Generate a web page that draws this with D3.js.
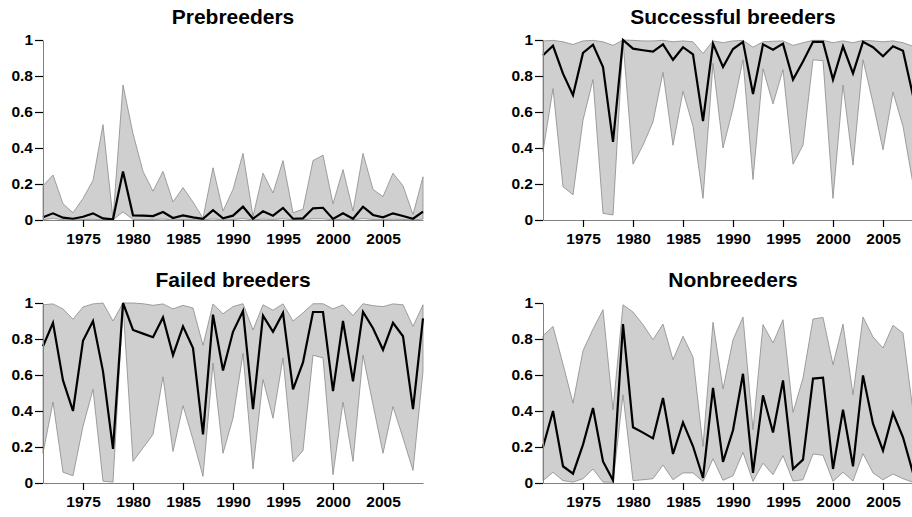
<!DOCTYPE html>
<html>
<head>
<meta charset="utf-8">
<script src="https://cdn.jsdelivr.net/npm/d3@7"></script>
<style>
  html, body { margin: 0; padding: 0; background: #fff; }
  svg { display: block; }
  text { font-family: "Liberation Sans", Arial, Helvetica, sans-serif; font-weight: bold; }
</style>
</head>
<body>
<svg id="chart" width="912" height="517"></svg>
<script>
const years = d3.range(1971, 2010);
const titles = ["Prebreeders", "Successful breeders", "Failed breeders", "Nonbreeders"];
const yTicks = [0, 0.2, 0.4, 0.6, 0.8, 1];
const yTickLabels = ["0", "0.2", "0.4", "0.6", "0.8", "1"];
const xTicks = [1975, 1980, 1985, 1990, 1995, 2000, 2005];

const preMean = [0.015,0.037,0.013,0.007,0.018,0.037,0.009,0.004,0.27,0.026,0.024,0.022,0.044,0.011,0.026,0.015,0.007,0.055,0.009,0.024,0.074,0.007,0.048,0.024,0.067,0.007,0.009,0.065,0.068,0.006,0.037,0.007,0.074,0.028,0.015,0.037,0.022,0.007,0.046];
const preLower = [0.002,0.008,0.002,0.001,0.002,0.004,0.001,0.001,0.045,0.003,0.003,0.003,0.005,0.001,0.003,0.002,0.001,0.006,0.001,0.003,0.008,0.001,0.005,0.003,0.007,0.001,0.001,0.007,0.007,0.001,0.004,0.001,0.008,0.003,0.002,0.004,0.003,0.001,0.005];
const preUpper = [0.19,0.25,0.09,0.04,0.12,0.22,0.53,0.005,0.75,0.48,0.27,0.16,0.27,0.10,0.18,0.10,0.01,0.29,0.05,0.17,0.37,0.02,0.26,0.15,0.33,0.04,0.06,0.33,0.36,0.09,0.28,0.05,0.37,0.17,0.13,0.26,0.19,0.03,0.24];

const sucMean = [0.915,0.968,0.813,0.693,0.928,0.974,0.85,0.434,1.0,0.952,0.943,0.935,0.976,0.89,0.96,0.92,0.55,0.98,0.85,0.95,0.99,0.70,0.976,0.946,0.98,0.78,0.88,0.99,0.99,0.78,0.965,0.815,0.99,0.96,0.91,0.965,0.94,0.69,0.85];
const sucLower = [0.38,0.73,0.185,0.14,0.555,0.78,0.037,0.028,0.99,0.31,0.415,0.545,0.82,0.415,0.715,0.52,0.12,0.87,0.40,0.62,0.89,0.225,0.84,0.645,0.835,0.31,0.415,0.89,0.885,0.12,0.75,0.305,0.89,0.65,0.39,0.71,0.52,0.20,0.5];
const sucUpper = [0.995,0.998,0.99,0.975,0.995,0.998,0.99,0.97,1.0,0.998,0.995,0.995,0.998,0.99,0.995,0.99,0.925,0.995,0.985,0.995,0.998,0.96,0.99,0.993,0.995,0.97,0.985,0.998,0.998,0.985,0.995,0.985,0.998,0.995,0.99,0.995,0.985,0.965,0.99];

const faiMean = [0.76,0.89,0.57,0.40,0.79,0.90,0.62,0.19,1.0,0.85,0.83,0.81,0.92,0.71,0.87,0.75,0.27,0.935,0.625,0.84,0.955,0.41,0.93,0.84,0.945,0.52,0.67,0.95,0.95,0.51,0.90,0.565,0.95,0.86,0.74,0.89,0.815,0.41,0.915];
const faiLower = [0.165,0.45,0.06,0.04,0.315,0.52,0.01,0.005,0.99,0.12,0.195,0.27,0.59,0.175,0.43,0.24,0.037,0.665,0.165,0.36,0.72,0.078,0.575,0.36,0.695,0.117,0.18,0.71,0.695,0.046,0.45,0.12,0.71,0.435,0.165,0.425,0.25,0.07,0.62];
const faiUpper = [0.99,0.995,0.967,0.91,0.978,0.995,1.0,0.90,1.0,1.0,0.996,0.987,0.995,0.967,0.987,0.972,0.765,0.995,0.94,0.98,0.996,0.85,0.99,0.96,0.995,0.90,0.945,0.996,0.996,0.967,0.99,0.93,0.996,0.985,0.98,0.995,0.99,0.87,0.99];

const nonMean = [0.20,0.40,0.093,0.052,0.213,0.417,0.12,0.015,0.883,0.31,0.28,0.248,0.472,0.161,0.337,0.204,0.028,0.528,0.117,0.293,0.607,0.056,0.487,0.281,0.570,0.078,0.13,0.58,0.585,0.078,0.407,0.093,0.598,0.33,0.18,0.389,0.254,0.056,0.2];
const nonLower = [0.013,0.06,0.013,0.005,0.024,0.078,0.005,0.004,0.49,0.013,0.018,0.024,0.10,0.018,0.056,0.056,0.009,0.135,0.015,0.04,0.17,0.009,0.11,0.046,0.152,0.011,0.018,0.161,0.154,0.009,0.06,0.011,0.163,0.056,0.018,0.05,0.024,0.004,0.02];
const nonUpper = [0.818,0.87,0.66,0.444,0.735,0.855,0.963,0.407,0.99,0.95,0.88,0.796,0.883,0.685,0.815,0.70,0.204,0.893,0.522,0.796,0.922,0.296,0.88,0.778,0.907,0.393,0.583,0.911,0.92,0.657,0.883,0.49,0.922,0.811,0.75,0.876,0.833,0.40,0.6];

const panels = [
  { title: titles[0], mean: preMean, lower: preLower, upper: preUpper, col: 0, row: 0 },
  { title: titles[1], mean: sucMean, lower: sucLower, upper: sucUpper, col: 1, row: 0 },
  { title: titles[2], mean: faiMean, lower: faiLower, upper: faiUpper, col: 0, row: 1 },
  { title: titles[3], mean: nonMean, lower: nonLower, upper: nonUpper, col: 1, row: 1 }
];

const svg = d3.select("#chart");
const colX = [43, 543];
const rowY = [40, 303];
const pw = 380, ph = 180;

panels.forEach(p => {
  const x0 = colX[p.col], y0 = rowY[p.row];
  const x = d3.scaleLinear().domain([1971, 2009]).range([x0, x0 + pw]);
  const y = d3.scaleLinear().domain([0, 1]).range([y0 + ph, y0]);
  const g = svg.append("g");
  const rows = years.map((yr, i) => ({ yr, m: p.mean[i], lo: p.lower[i], hi: p.upper[i] }));

  g.append("path")
    .datum(rows)
    .attr("d", d3.area().x(d => x(d.yr)).y0(d => y(d.lo)).y1(d => y(d.hi)))
    .attr("fill", "#cfcfcf")
    .attr("stroke", "#8a8a8a")
    .attr("stroke-width", 0.8);

  g.append("path")
    .datum(rows)
    .attr("d", d3.line().x(d => x(d.yr)).y(d => y(d.m)))
    .attr("fill", "none")
    .attr("stroke", "#000")
    .attr("stroke-width", 2.2)
    .attr("stroke-linejoin", "miter");

  const ya = g.append("g")
    .attr("transform", `translate(${x0},0)`)
    .call(d3.axisLeft(y).tickValues(yTicks).tickFormat((d, i) => yTickLabels[i]).tickSize(8).tickSizeOuter(0).tickPadding(2));
  const xa = g.append("g")
    .attr("transform", `translate(0,${y0 + ph})`)
    .call(d3.axisBottom(x).tickValues(xTicks).tickFormat(d3.format("d")).tickSize(7).tickSizeOuter(0).tickPadding(6));
  [ya, xa].forEach(a => {
    a.select(".domain").attr("stroke", "#808080").attr("stroke-width", 1);
    a.selectAll(".tick line").attr("stroke", "#000").attr("stroke-width", 1.2);
    a.selectAll(".tick text").attr("fill", "#000")
      .style("font-size", "15.5px").style("font-weight", "bold")
      .style("font-family", '"Liberation Sans", Arial, Helvetica, sans-serif');
  });

  g.append("text")
    .attr("x", x0 + pw / 2)
    .attr("y", y0 - 16)
    .attr("text-anchor", "middle")
    .style("font-size", "21px")
    .attr("fill", "#000")
    .text(p.title);
});
</script>
</body>
</html>
